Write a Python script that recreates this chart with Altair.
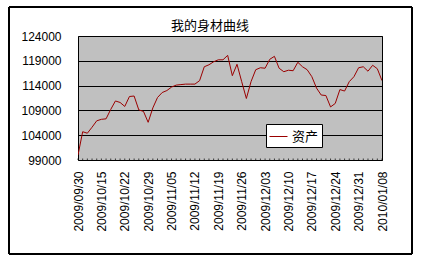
import altair as alt
import pandas as pd

dates = [
    "2009/09/30",
    "2009/10/09", "2009/10/12", "2009/10/13", "2009/10/14", "2009/10/15", "2009/10/16",
    "2009/10/19", "2009/10/20", "2009/10/21", "2009/10/22", "2009/10/23",
    "2009/10/26", "2009/10/27", "2009/10/28", "2009/10/29", "2009/10/30",
    "2009/11/02", "2009/11/03", "2009/11/04", "2009/11/05", "2009/11/06",
    "2009/11/09", "2009/11/10", "2009/11/11", "2009/11/12", "2009/11/13",
    "2009/11/16", "2009/11/17", "2009/11/18", "2009/11/19", "2009/11/20",
    "2009/11/23", "2009/11/24", "2009/11/25", "2009/11/26", "2009/11/27",
    "2009/11/30", "2009/12/01", "2009/12/02", "2009/12/03", "2009/12/04",
    "2009/12/07", "2009/12/08", "2009/12/09", "2009/12/10", "2009/12/11",
    "2009/12/14", "2009/12/15", "2009/12/16", "2009/12/17", "2009/12/18",
    "2009/12/21", "2009/12/22", "2009/12/23", "2009/12/24", "2009/12/25",
    "2009/12/28", "2009/12/29", "2009/12/30", "2009/12/31",
    "2010/01/04", "2010/01/05", "2010/01/06", "2010/01/07", "2010/01/08",
]

values = [
    100000, 104700, 104400, 105600, 106900, 107200, 107300, 109200, 110900, 110600,
    109800, 111800, 111900, 109100, 108800, 106600, 109500, 111600, 112600, 113000,
    113700, 114100, 114200, 114300, 114300, 114300, 115000, 117800, 118200, 118800,
    119200, 119200, 120100, 116000, 118300, 114800, 111400, 114800, 117200, 117600,
    117500, 119300, 119900, 117500, 116800, 117100, 117000, 118700, 117800, 117200,
    115800, 113500, 112100, 112000, 109700, 110400, 113200, 112900, 114800, 115800,
    117600, 117800, 116900, 118100, 117400, 115000,
]

label_dates = [
    "2009/09/30", "2009/10/15", "2009/10/22", "2009/10/29", "2009/11/05",
    "2009/11/12", "2009/11/19", "2009/11/26", "2009/12/03", "2009/12/10",
    "2009/12/17", "2009/12/24", "2009/12/31", "2010/01/08",
]
y_ticks = [99000, 104000, 109000, 114000, 119000, 124000]
series_name = "资产"
title_text = "我的身材曲线"

df = pd.DataFrame({"date": dates, "value": values, "series": series_name})

W, H = 304, 124
FONT = "Liberation Sans"
CJK = "Noto Sans CJK SC"

x_enc = alt.X(
    "date:O",
    sort=dates,
    scale=alt.Scale(type="point", padding=0),
    axis=alt.Axis(
        values=label_dates,
        title=None,
        labelAngle=270,
        labelAlign="right",
        labelBaseline="middle",
        labelFont=FONT,
        labelFontSize=12,
        labelColor="#000000",
        labelPadding=11,
        ticks=False,
        domain=False,
        grid=False,
        labelOverlap=False,
    ),
)

line = alt.Chart(df).mark_line(strokeWidth=1, clip=True).encode(
    x=x_enc,
    y=alt.Y(
        "value:Q",
        scale=alt.Scale(domain=[99000, 124000], nice=False, zero=False),
        axis=alt.Axis(
            values=y_ticks,
            title=None,
            format="d",
            labelFont=FONT,
            labelFontSize=12,
            labelColor="#000000",
            labelPadding=17,
            ticks=False,
            domain=False,
            grid=True,
            gridColor="#000000",
            gridOpacity=1,
            gridWidth=1,
        ),
    ),
    color=alt.Color(
        "series:N",
        scale=alt.Scale(domain=[series_name], range=["#9a0000"]),
        legend=alt.Legend(
            title=None,
            orient="none",
            legendX=188,
            legendY=88,
            symbolType="stroke",
            symbolSize=324,
            symbolStrokeWidth=1,
            labelFont=CJK,
            labelFontSize=13,
            labelColor="#000000",
            strokeColor="#000000",
            fillColor="#ffffff",
            padding=3,
            cornerRadius=0,
        ),
    ),
)

ticks = alt.Chart(df).mark_tick(color="#000000", size=3, thickness=1).encode(
    x=alt.X("date:O", sort=dates, scale=alt.Scale(type="point", padding=0)),
    y=alt.value(H - 1.5),
)

frame = alt.Chart(df).mark_rect(fill=None, stroke="#000000", strokeWidth=1).encode(
    x=alt.value(-69), x2=alt.value(334), y=alt.value(-29), y2=alt.value(218)
)

chart = alt.layer(frame, line, ticks).properties(
    width=W,
    height=H,
    autosize=alt.AutoSizeParams(type="none"),
    padding={"left": 78, "top": 36, "right": 45, "bottom": 101},
    background="#ffffff",
    title=alt.TitleParams(
        text=title_text,
        font=CJK,
        fontSize=13,
        fontWeight="normal",
        color="#000000",
        anchor="middle",
        frame="group",
        dx=-20,
        dy=31,
        offset=5,
    ),
).configure_view(
    fill="#c0c0c0", stroke="#000000", strokeWidth=1
)

chart.save("out.html", embed_options={"renderer": "svg", "actions": False})
